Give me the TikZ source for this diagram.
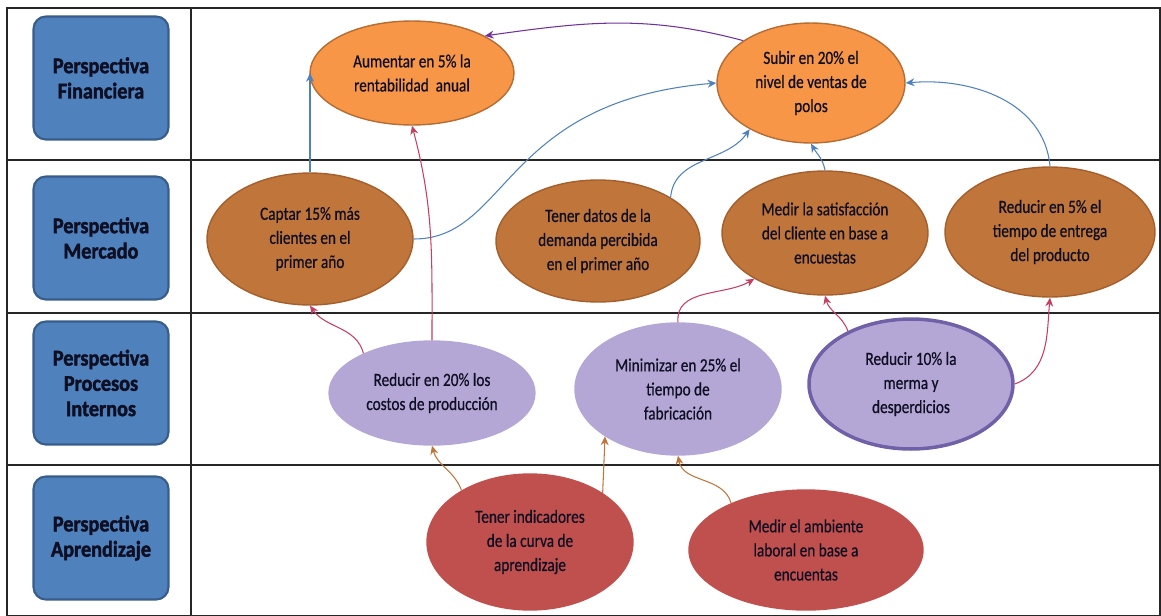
\documentclass[tikz,border=0pt]{standalone}
\usepackage{fontspec}
\newfontfamily\lblfont[FakeStretch=0.82,FakeBold=0.6]{Carlito}
\newfontfamily\boxfont[FakeStretch=0.9,FakeBold=1.8]{Carlito Bold}
\usetikzlibrary{shapes.geometric,arrows.meta}
\definecolor{BSCBlue}  {RGB}{79, 129,189}
\definecolor{BSCBlueD} {RGB}{56,  93,138}
\definecolor{BSCOrange}{RGB}{247,150, 70}
\definecolor{BSCOrangeD}{RGB}{182,108,50}
\definecolor{BSCBrown} {RGB}{192,117, 58}
\definecolor{BSCBrownD}{RGB}{165, 95, 45}
\definecolor{BSCLila}  {RGB}{180,167,214}
\definecolor{BSCViolet}{RGB}{112, 96,168}
\definecolor{BSCRed}   {RGB}{192, 80, 77}
\definecolor{BSCRose}  {RGB}{198, 62, 96}
\definecolor{BSCPurple}{RGB}{112, 48,160}
\definecolor{BSCInk}   {RGB}{15,  15, 35}

\begin{document}
\begin{tikzpicture}[
  x=0.02cm, y=-0.02cm,
  persp/.style = {draw=BSCBlueD, fill=BSCBlue, rounded corners=7pt,
                  line width=1.2pt, minimum width=2.7cm, minimum height=2.46cm,
                  align=center, text=BSCInk,
                  font=\boxfont\fontsize{12.8}{14.4}\selectfont},
  obj/.style   = {ellipse, inner sep=0pt, align=center, line width=0.8pt,
                  text=BSCInk, font=\lblfont\fontsize{10.6}{13.7}\selectfont},
  fin/.style   = {obj, fill=BSCOrange, draw=BSCOrangeD},
  mer/.style   = {obj, fill=BSCBrown, draw=BSCBrownD},
  pro/.style   = {obj, fill=BSCLila, draw=BSCLila},
  apr/.style   = {obj, fill=BSCRed, draw=BSCRed},
  arr/.style   = {-{Stealth[length=5pt,width=4.5pt]}, line width=0.6pt},
  blu/.style   = {arr, BSCBlue},
  ros/.style   = {arr, BSCRose},
  brn/.style   = {arr, BSCBrown}
]
\useasboundingbox (0,0) rectangle (1161,616);
\draw[line width=0.9pt, black!85] (7,8) rectangle (1160,616);
\draw[line width=0.9pt, black!85] (191,8) -- (191,616);
\draw[line width=0.9pt, black!85] (7,160) -- (1160,160);
\draw[line width=0.9pt, black!85] (7,313) -- (1160,313);
\draw[line width=0.9pt, black!85] (7,465) -- (1160,465);

\node[persp] (PF) at (101,78)  {Perspectiva\\Financiera};
\node[persp] (PM) at (101,238) {Perspectiva\\Mercado};
\node[persp] (PP) at (101,383) {Perspectiva\\Procesos\\Internos};
\node[persp] (PA) at (101,538) {Perspectiva\\Aprendizaje};

\node[fin, minimum width=4.08cm, minimum height=2.08cm] (A1) at (412,73)
  {Aumentar en 5\% la\\rentabilidad\ \ anual};
\node[fin, minimum width=3.76cm, minimum height=2.4cm] (A2) at (811,83)
  {Subir en 20\% el\\nivel de ventas de\\polos};

\node[mer, minimum width=4.12cm, minimum height=2.64cm] (B1) at (310,239)
  {Captar 15\% más\\clientes en el\\primer año};
\node[mer, minimum width=4.08cm, minimum height=2.44cm] (B2) at (598,241)
  {Tener datos de la\\demanda percibida\\en el primer año};
\node[mer, minimum width=4.12cm, minimum height=2.48cm] (B3) at (825,233)
  {Medir la satisfacción\\del cliente en base a\\encuestas};
\node[mer, minimum width=4.2cm, minimum height=2.6cm] (B4) at (1050,232)
  {Reducir en 5\% el\\tiempo de entrega\\del producto};

\node[pro, minimum width=4.12cm, minimum height=2.08cm] (C1) at (432,393)
  {Reducir en 20\% los\\costos de producción};
\node[pro, minimum width=4.12cm, minimum height=2.64cm] (C2) at (678,389)
  {Minimizar en 25\% el\\tiempo de\\fabricación};
\node[pro, draw=BSCViolet, line width=2pt, minimum width=4.08cm,
      minimum height=2.6cm] (C3) at (911,384)
  {Reducir 10\% la\\merma y\\desperdicios};

\node[apr, minimum width=4.12cm, minimum height=2.72cm] (D1) at (530,542)
  {Tener indicadores\\de la curva de\\aprendizaje};
\node[apr, minimum width=4.68cm, minimum height=2.4cm] (D2) at (806,550)
  {Medir el ambiente\\laboral en base a\\encuentas};

\draw[arr, BSCPurple] (A2.148) to[out=165,in=8] (A1.27);
\draw[blu] (B1.north) -- (B1.north |- A1.west);
\draw[blu] (B1.east) .. controls +(95,0) and +(-215,18) .. (A2.west);
\draw[blu] (B2.31) to[out=85,in=235] (A2.217);
\draw[blu] (B3.north) to[out=100,in=-60] (A2.south);
\draw[blu] (B4.north) to[out=95,in=5] (A2.east);

\draw[ros] (C1.north) to[out=90,in=-75] (A1.south);
\draw[ros] (C1.150) to[out=105,in=-55] (B1.south);
\draw[ros] (C2.north) to[out=95,in=210] (B3.213);
\draw[ros] (C3.140) to[out=110,in=-75] (B3.south);
\draw[ros] (C3.east) to[out=20,in=-95] (B4.south);

\draw[brn] (D1.143) to[out=110,in=-75] (C1.south);
\draw[brn] (D1.34) -- (C2.213);
\draw[brn] (D2.148) to[out=105,in=-80] (C2.south);
\end{tikzpicture}
\end{document}
